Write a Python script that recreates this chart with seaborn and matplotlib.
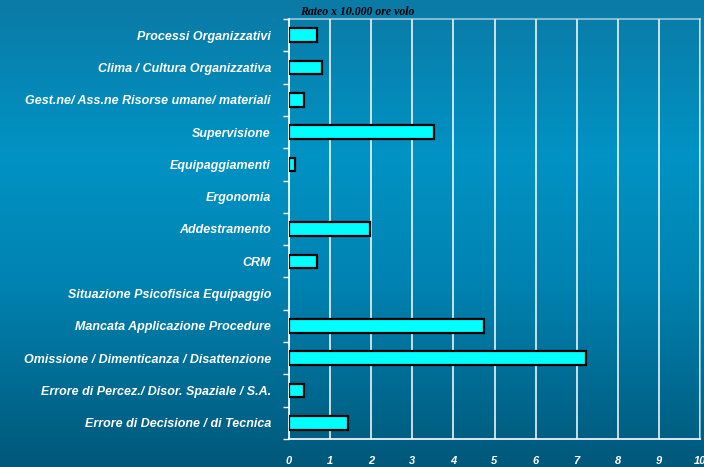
import numpy as np
import pandas as pd
import matplotlib
matplotlib.use("Agg")
import matplotlib.pyplot as plt
import seaborn as sns
from matplotlib.colors import LinearSegmentedColormap

categories = [
    "Processi Organizzativi",
    "Clima / Cultura Organizzativa",
    "Gest.ne/ Ass.ne Risorse umane/ materiali",
    "Supervisione",
    "Equipaggiamenti",
    "Ergonomia",
    "Addestramento",
    "CRM",
    "Situazione Psicofisica Equipaggio",
    "Mancata Applicazione Procedure",
    "Omissione / Dimenticanza / Disattenzione",
    "Errore di Percez./ Disor. Spaziale / S.A.",
    "Errore di Decisione / di Tecnica",
]
values = [0.68, 0.80, 0.37, 3.53, 0.15, 0.0, 1.97, 0.68, 0.0, 4.74, 7.23, 0.37, 1.44]
x_ticks = [0, 1, 2, 3, 4, 5, 6, 7, 8, 9, 10]
title = "Rateo x 10.000 ore volo"

df = pd.DataFrame({"cat": categories, "val": values})

sns.set_theme(style="white")
plt.rcParams["font.family"] = ["Liberation Sans", "DejaVu Sans"]

W, H = 704, 467
fig = plt.figure(figsize=(W / 100, H / 100), dpi=100)

# background gradient
bg = fig.add_axes([0, 0, 1, 1], zorder=-10)
cmap = LinearSegmentedColormap.from_list(
    "bg", [(0.0, "#0b7aa6"), (0.33, "#0093c4"), (0.6, "#0083b2"), (1.0, "#00587a")]
)
grad = np.linspace(0, 1, 256).reshape(-1, 1)
bg.imshow(grad, aspect="auto", cmap=cmap, extent=[0, 1, 0, 1], origin="upper")
bg.set_axis_off()

left, right = 289 / W, 700 / W
top, bottom = 19 / H, 439 / H
ax = fig.add_axes([left, 1 - bottom, right - left, bottom - top])
ax.patch.set_alpha(0)

sns.barplot(data=df, x="val", y="cat", ax=ax, color="#00ffff", width=0.42,
            edgecolor="black", linewidth=1.6, saturation=1, zorder=3)
for p in ax.patches:
    if p.get_width() == 0:
        p.set_visible(False)

ax.set_xlim(0, 10)
ax.set_ylim(12.5, -0.5)
ax.set_xticks(x_ticks)
ax.set_xticklabels([str(t) for t in x_ticks], color="white", fontsize=8,
                   fontweight="bold", fontstyle="italic")
ax.tick_params(axis="x", colors="white", length=4, width=1, direction="out",
               pad=8, labelcolor="white")
ax.set_yticks(range(len(categories)))
ax.set_yticklabels(categories, color="white", fontsize=9, fontweight="bold",
                   fontstyle="italic")
ax.tick_params(axis="y", which="major", length=0, pad=13)
ax.set_yticks(np.arange(-0.5, len(categories), 1), minor=True)
ax.tick_params(axis="y", which="minor", length=4, width=1, color="white",
               direction="out", left=True)
ax.set_xlabel("")
ax.set_ylabel("")

ax.grid(axis="x", color="white", linewidth=1.1, zorder=0)
ax.set_axisbelow(True)
for side in ["left", "bottom"]:
    ax.spines[side].set_color("white")
    ax.spines[side].set_linewidth(1.2)
for side in ["top", "right"]:
    ax.spines[side].set_color("#cfe8f2")
    ax.spines[side].set_linewidth(1.2)
    ax.spines[side].set_alpha(0.7)

fig.text(300 / W, 1 - 15 / H, title, family=["Liberation Serif", "DejaVu Serif"],
         fontsize=8.5, fontweight="bold", fontstyle="italic", color="black",
         ha="left", va="baseline")

fig.savefig("out.png", dpi=100)
